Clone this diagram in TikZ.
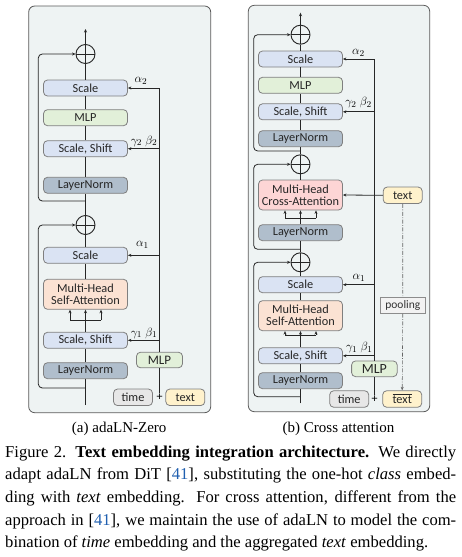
\documentclass[tikz,border=0pt]{standalone}
\usepackage{fontspec}
\setmainfont{Liberation Serif}
\newfontfamily\boxfont{Carlito}
\usetikzlibrary{arrows.meta,calc}
\definecolor{panelbg}{HTML}{EEF3F3}
\definecolor{panelbd}{HTML}{5A5A5A}
\definecolor{bordc}{HTML}{7F7F7F}
\definecolor{scalec}{HTML}{DAE3F3}
\definecolor{mlpc}{HTML}{E2F0D9}
\definecolor{lnc}{HTML}{B0BECC}
\definecolor{attc}{HTML}{FBE2D3}
\definecolor{crossc}{HTML}{FDD5D5}
\definecolor{timec}{HTML}{E7E7E7}
\definecolor{textc}{HTML}{FFF2CC}
\definecolor{poolc}{HTML}{F2F2F2}
\definecolor{linec}{HTML}{262626}
\definecolor{boxtext}{HTML}{262626}
\definecolor{citeblue}{HTML}{1F5FB0}
\tikzset{
  panel/.style={draw=panelbd, fill=panelbg, line width=0.8pt, rounded corners=6pt},
  blk/.style={draw=bordc, line width=0.8pt, rounded corners=4pt, minimum width=84pt,
    minimum height=16pt, inner sep=0pt, align=center, text=boxtext,
    font=\boxfont\fontsize{12.3}{13.5}\selectfont},
  tok/.style={blk, minimum width=39pt, minimum height=16.5pt},
  poolbox/.style={draw=black!45, fill=poolc, line width=0.7pt, minimum width=45pt,
    minimum height=16pt, inner sep=0pt, text=black!80, font=\boxfont\fontsize{11.5}{12}\selectfont},
  oplus/.style={circle, draw=linec, line width=0.9pt, minimum size=19pt, inner sep=0pt,
    path picture={\draw[linec, line width=0.9pt] (path picture bounding box.north) -- (path picture bounding box.south)
      (path picture bounding box.west) -- (path picture bounding box.east);}},
  conn/.style={draw=linec, line width=0.8pt},
  arr/.style={conn, -{Stealth[length=3.5pt,width=3pt]}},
  skip/.style={arr, rounded corners=4pt},
  dd/.style={draw=black!60, line width=0.6pt, dash pattern=on 4pt off 1.5pt on 0.8pt off 1.5pt},
  lab/.style={inner sep=0pt, font=\fontsize{12.5}{14}\selectfont},
  plussign/.style={inner sep=0.5pt, font=\boxfont\fontsize{12}{13}\selectfont},
  subcap/.style={inner sep=0pt, anchor=base, font=\fontsize{15}{18}\selectfont},
}
\begin{document}
\begin{tikzpicture}[x=1pt,y=-1pt]
\useasboundingbox (0,0) rectangle (462,557);
\fill[white] (0,0) rectangle (462,557);

% ---------------- panels
\draw[panel] (28.7,6) rectangle (210.7,412.7);
\draw[panel] (248.3,5.3) rectangle (429.7,411.7);

% ================= LEFT (a)
\coordinate (Lout) at (85.5,29);
\node[oplus] (Lc2) at (85.5,54) {};
\node[blk,fill=scalec] (Lsc2) at (85.5,88) {Scale};
\node[blk,fill=mlpc] (Lmlp2) at (85.5,117.7) {MLP};
\node[blk,fill=scalec] (Lss2) at (85.5,148.7) {Scale, Shift};
\node[blk,fill=lnc] (Lln2) at (85.5,185.3) {LayerNorm};
\coordinate (Lsk2) at (85.5,201);
\node[oplus] (Lc1) at (85.5,225) {};
\node[blk,fill=scalec] (Lsc1) at (85.5,255.3) {Scale};
\node[blk,fill=attc,minimum height=30pt] (Lsa) at (85.5,294.3) {Multi-Head\\[-1.5pt]Self-Attention};
\coordinate (Lbr) at (85.5,320);
\coordinate (LbrL) at (70,320);
\coordinate (LbrR) at (101,320);
\node[blk,fill=scalec] (Lss1) at (85.5,340.3) {Scale, Shift};
\node[blk,fill=lnc] (Lln1) at (85.5,370.7) {LayerNorm};
\coordinate (Lsk1) at (85.5,388);
\coordinate (Lin) at (85.5,405);
\coordinate (Lskx) at (38.3,0);

\node[blk,fill=mlpc,minimum width=46pt,minimum height=15.5pt,font=\boxfont\fontsize{13}{14}\selectfont] (Lmlp) at (159.5,360) {MLP};
\node[tok,fill=timec] (Ltime) at (133,397.3) {time};
\node[tok,fill=textc] (Ltext) at (185.3,397.3) {text};
\node[plussign] (Lplus) at (159.5,397.3) {+};

\draw[conn] (Lin) -- (Lln1.south) (Lln1.north) -- (Lss1.south) (Lss1.north) -- (Lbr);
\draw[conn] (LbrL) -- (LbrR);
\draw[arr] (LbrL) -- (LbrL |- Lsa.south);
\draw[arr] (Lbr) -- (Lsa.south);
\draw[arr] (LbrR) -- (LbrR |- Lsa.south);
\draw[conn] (Lsa.north) -- (Lsc1.south) (Lsc1.north) -- (Lc1.south) (Lc1.north) -- (Lln2.south)
  (Lln2.north) -- (Lss2.south) (Lss2.north) -- (Lmlp2.south) (Lmlp2.north) -- (Lsc2.south)
  (Lsc2.north) -- (Lc2.south);
\draw[arr] (Lc2.north) -- (Lout);
\draw[skip] (Lsk1) -- (Lsk1 -| Lskx) |- (Lc1.west);
\draw[skip] (Lsk2) -- (Lsk2 -| Lskx) |- (Lc2.west);

\draw[arr] (Lmlp.north) |- (Lsc2.east);
\draw[arr] (Lmlp.north |- Lss2.east) -- (Lss2.east);
\draw[arr] (Lmlp.north |- Lsc1.east) -- (Lsc1.east);
\draw[arr] (Lmlp.north |- Lss1.east) -- (Lss1.east);
\draw[conn] (Lplus.north) -- (Lmlp.south);

\node[lab] (La2) at (141,81) {$\alpha_2$};
\node[lab] (Lgb2) at (144,141) {$\gamma_2\;\beta_2$};
\node[lab] (La1) at (142.5,245) {$\alpha_1$};
\node[lab] (Lgb1) at (144,333) {$\gamma_1\;\beta_1$};

\node[subcap] (Lcap) at (119.2,432.3) {(a) adaLN-Zero};

% ================= RIGHT (b)
\coordinate (Rout) at (300.5,12.7);
\node[oplus] (Rc3) at (300.5,34.7) {};
\node[blk,fill=scalec] (Rsc3) at (300.5,59) {Scale};
\node[blk,fill=mlpc] (Rmlp3) at (300.5,85.3) {MLP};
\node[blk,fill=scalec] (Rss3) at (300.5,111.8) {Scale, Shift};
\node[blk,fill=lnc] (Rln3) at (300.5,138.7) {LayerNorm};
\coordinate (Rsk3) at (300.5,151);
\node[oplus] (Rc2) at (300.5,164.3) {};
\node[blk,fill=crossc,minimum height=30pt] (Rca) at (300.5,195) {Multi-Head\\[-1.5pt]Cross-Attention};
\coordinate (Rbr2) at (300.5,218.3);
\coordinate (Rbr2L) at (285,218.3);
\coordinate (Rbr2R) at (316,218.3);
\node[blk,fill=lnc] (Rln2) at (300.5,232.7) {LayerNorm};
\coordinate (Rsk2) at (300.5,249.3);
\node[oplus] (Rc1) at (300.5,262.3) {};
\node[blk,fill=scalec] (Rsc1) at (300.5,284.7) {Scale};
\node[blk,fill=attc,minimum height=30pt] (Rsa) at (300.5,315.7) {Multi-Head\\[-1.5pt]Self-Attention};
\coordinate (Rbr1) at (300.5,335);
\coordinate (Rbr1L) at (285,335);
\coordinate (Rbr1R) at (316,335);
\node[blk,fill=scalec] (Rss1) at (300.5,355.8) {Scale, Shift};
\node[blk,fill=lnc] (Rln1) at (300.5,380.7) {LayerNorm};
\coordinate (Rsk1) at (300.5,396.7);
\coordinate (Rin) at (300.5,403.3);
\coordinate (Rskx) at (253.7,0);

\node[blk,fill=mlpc,minimum width=45.6pt,minimum height=15.7pt,font=\boxfont\fontsize{14}{15}\selectfont] (Rmlp) at (374.4,368.8) {MLP};
\node[tok,fill=timec] (Rtime) at (349.2,399) {time};
\node[tok,fill=textc] (Rtext) at (402.2,399) {$\overline{\mbox{text}}$};
\node[plussign] (Rplus) at (374.6,399) {+};
\node[tok,fill=textc] (Rtxt) at (402.7,195.3) {text};
\node[poolbox] (Rpool) at (402.8,305.3) {pooling};

\draw[conn] (Rin) -- (Rln1.south) (Rln1.north) -- (Rss1.south) (Rss1.north) -- (Rbr1);
\draw[conn] (Rbr1L) -- (Rbr1R);
\draw[arr] (Rbr1L) -- (Rbr1L |- Rsa.south);
\draw[arr] (Rbr1) -- (Rsa.south);
\draw[arr] (Rbr1R) -- (Rbr1R |- Rsa.south);
\draw[conn] (Rsa.north) -- (Rsc1.south) (Rsc1.north) -- (Rc1.south) (Rc1.north) -- (Rln2.south)
  (Rln2.north) -- (Rbr2);
\draw[conn] (Rbr2L) -- (Rbr2R);
\draw[arr] (Rbr2L) -- (Rbr2L |- Rca.south);
\draw[arr] (Rbr2) -- (Rca.south);
\draw[arr] (Rbr2R) -- (Rbr2R |- Rca.south);
\draw[conn] (Rca.north) -- (Rc2.south) (Rc2.north) -- (Rln3.south) (Rln3.north) -- (Rss3.south)
  (Rss3.north) -- (Rmlp3.south) (Rmlp3.north) -- (Rsc3.south) (Rsc3.north) -- (Rc3.south);
\draw[arr] (Rc3.north) -- (Rout);
\draw[skip] (Rsk1) -- (Rsk1 -| Rskx) |- (Rc1.west);
\draw[skip] (Rsk2) -- (Rsk2 -| Rskx) |- (Rc2.west);
\draw[skip] (Rsk3) -- (Rsk3 -| Rskx) |- (Rc3.west);

\draw[arr] (Rmlp.north) |- (Rsc3.east);
\draw[arr] (Rmlp.north |- Rss3.east) -- (Rss3.east);
\draw[arr] (Rmlp.north |- Rsc1.east) -- (Rsc1.east);
\draw[arr] (Rmlp.north |- Rss1.east) -- (Rss1.east);
\draw[conn] (Rplus.north) -- (Rmlp.south);
\draw[arr] (Rtxt.west) -- (Rca.east);
\draw[dd] (Rtxt.south) -- (Rpool.north);
\draw[dd, -{Stealth[length=3.5pt,width=3pt]}] (Rpool.south) -- (Rtext.north);

\node[lab] (Ra2) at (358.5,53) {$\alpha_2$};
\node[lab] (Rgb2) at (358.5,102.5) {$\gamma_2\;\beta_2$};
\node[lab] (Ra1) at (359,278.3) {$\alpha_1$};
\node[lab] (Rgb1) at (359.3,347.5) {$\gamma_1\;\beta_1$};

\node[subcap] (Rcap) at (338.5,432.3) {(b) Cross attention};

% ================= caption
\node[anchor=base west, inner sep=0pt] (cap) at (5,457.3) {\parbox[t]{451pt}{\fontsize{16.6}{22.6}\selectfont
\makebox[451pt][s]{Figure 2. \textbf{Text embedding integration architecture.} We directly}\\
\makebox[451pt][s]{adapt adaLN from DiT [\textcolor{citeblue}{41}], substituting the one-hot \textit{class} embed-}\\
\makebox[451pt][s]{ding with \textit{text} embedding. For cross attention, different from the}\\
\makebox[451pt][s]{approach in [\textcolor{citeblue}{41}], we maintain the use of adaLN to model the com-}\\
bination of \textit{time} embedding and the aggregated \textit{text} embedding.}};
\end{tikzpicture}
\end{document}
